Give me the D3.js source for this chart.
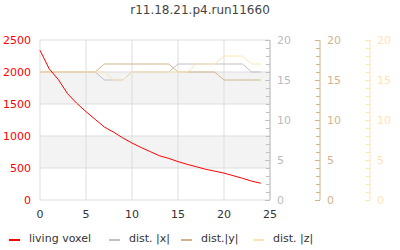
<!DOCTYPE html>
<html>
<head>
<meta charset="utf-8">
<script src="https://cdn.jsdelivr.net/npm/d3@7"></script>
<style>
  body { margin: 0; background: #fff; }
  text { font-family: "DejaVu Sans", sans-serif; }
</style>
</head>
<body>
<div id="chart"></div>
<script>
// Data.
var steps = d3.range(0, 25);
var living = [2340, 2050, 1880, 1660, 1510, 1380, 1260, 1140, 1060, 970, 890, 820, 755,
              690, 650, 600, 557, 520, 480, 450, 420, 380, 340, 295, 262];
var distX = [16, 16, 16, 16, 16, 16, 16, 15, 15, 15, 16, 16, 16, 16, 16, 17, 17, 17, 17, 17, 17, 17, 17, 16, 16];
var distY = [16, 16, 16, 16, 16, 16, 16, 17, 17, 17, 17, 17, 17, 17, 17, 16, 16, 16, 16, 16, 15, 15, 15, 15, 15];
var distZ = [16, 16, 16, 16, 16, 16, 16, 16, 15, 15, 16, 16, 16, 16, 16, 16, 16, 17, 17, 17, 18, 18, 18, 17, 17];
var seriesNames = ["living voxel", "dist. |x|", "dist.|y|", "dist. |z|"];
var seriesColors = ["#ff0000", "#c0c0c0", "#d2b48c", "#ffe4b5"];
var leftTicks = [0, 500, 1000, 1500, 2000, 2500];
var bottomTicks = [0, 5, 10, 15, 20, 25];
var rightTicks = [0, 5, 10, 15, 20];

var width = 400, height = 250;
var margin = { top: 40, left: 40 },
    iwidth = 230,
    iheight = 160;

var svg = d3.select("#chart").append("svg")
    .attr("width", width)
    .attr("height", height);

var x = d3.scaleLinear().domain([0, 25]).range([margin.left, margin.left + iwidth]);
var y = d3.scaleLinear().domain([0, 2500]).range([margin.top + iheight, margin.top]);
var yd = d3.scaleLinear().domain([0, 20]).range([margin.top + iheight, margin.top]);

// Title.
svg.append("text")
    .attr("x", 200).attr("y", 14)
    .attr("text-anchor", "middle")
    .style("font-size", "12px")
    .style("fill", "#444")
    .text("r11.18.21.p4.run11660");

// Alternating bands.
svg.selectAll("rect.band")
    .data([500, 1500])
    .enter().append("rect")
    .attr("class", "band")
    .attr("x", x(0)).attr("width", iwidth)
    .attr("y", function(d) { return y(d + 500); })
    .attr("height", function(d) { return y(d) - y(d + 500); })
    .style("fill", "#f3f3f3");

// Grid.
svg.selectAll("line.hgrid")
    .data(leftTicks)
    .enter().append("line")
    .attr("x1", x(0)).attr("x2", x(25))
    .attr("y1", function(d) { return y(d); })
    .attr("y2", function(d) { return y(d); })
    .style("stroke", "#dddddd");
svg.selectAll("line.vgrid")
    .data(bottomTicks)
    .enter().append("line")
    .attr("x1", function(d) { return x(d); })
    .attr("x2", function(d) { return x(d); })
    .attr("y1", y(0)).attr("y2", y(2500))
    .style("stroke", "#dddddd");

// Left axis labels.
svg.selectAll("text.ly")
    .data(leftTicks)
    .enter().append("text")
    .attr("x", 31)
    .attr("y", function(d) { return y(d) + 4; })
    .attr("text-anchor", "end")
    .style("font-size", "11px")
    .style("fill", "#ff0000")
    .text(function(d) { return d; });

// Bottom axis labels.
svg.selectAll("text.bx")
    .data(bottomTicks)
    .enter().append("text")
    .attr("x", function(d) { return x(d); })
    .attr("y", 218)
    .attr("text-anchor", "middle")
    .style("font-size", "11px")
    .style("fill", "#333")
    .text(function(d) { return d; });

// Right axes.
var axisPos = [270, 320, 370];
var axisColors = ["#c0c0c0", "#d2b48c", "#ffe4b5"];
var labelColors = ["#bbbbbb", "#d2b48c", "#ffe4b5"];
axisPos.forEach(function(ax, i) {
    var g = svg.append("g");
    g.append("line")
        .attr("x1", ax).attr("x2", ax)
        .attr("y1", yd(0)).attr("y2", yd(20))
        .style("stroke", axisColors[i]);
    g.selectAll("line.t")
        .data(d3.range(0, 21))
        .enter().append("line")
        .attr("x1", function(d) { return ax - (d % 5 === 0 ? 5 : 4); })
        .attr("x2", ax)
        .attr("y1", function(d) { return Math.round(yd(d)) + 0.5; })
        .attr("y2", function(d) { return Math.round(yd(d)) + 0.5; })
        .style("stroke", axisColors[i]);
    g.selectAll("text")
        .data(rightTicks)
        .enter().append("text")
        .attr("x", ax + 7)
        .attr("y", function(d) { return yd(d) + 4; })
        .style("font-size", "11px")
        .style("fill", labelColors[i])
        .text(function(d) { return d; });
});

// Series lines.
var lineL = d3.line()
    .x(function(d, i) { return x(steps[i]); })
    .y(function(d) { return y(d); });
var lineD = d3.line()
    .x(function(d, i) { return x(steps[i]); })
    .y(function(d) { return yd(d); });

[distX, distY, distZ].forEach(function(s, i) {
    svg.append("path")
        .attr("d", lineD(s))
        .style("fill", "none")
        .style("stroke", seriesColors[i + 1])
        .style("stroke-width", 1);
});
svg.append("path")
    .attr("d", lineL(living))
    .style("fill", "none")
    .style("stroke", seriesColors[0])
    .style("stroke-width", 1);

// Legend.
var legendX = [9, 109, 181, 253];
seriesNames.forEach(function(name, i) {
    svg.append("line")
        .attr("x1", legendX[i]).attr("x2", legendX[i] + 11)
        .attr("y1", 240).attr("y2", 240)
        .style("stroke", seriesColors[i])
        .style("stroke-width", 2);
    svg.append("text")
        .attr("x", legendX[i] + 20)
        .attr("y", 242)
        .style("font-size", "11px")
        .style("fill", "#333")
        .text(name);
});
</script>
</body>
</html>
